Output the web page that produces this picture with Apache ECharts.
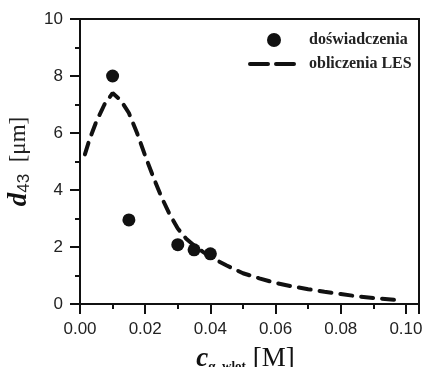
<!DOCTYPE html>
<html>
<head>
<meta charset="utf-8">
<script src="https://cdn.jsdelivr.net/npm/echarts@6/dist/echarts.min.js"></script>
<style>html,body{margin:0;padding:0;background:#fff}#c{width:423px;height:367px}</style>
</head>
<body>
<div id="c"></div>
<script>
// Experimental points
var expX = [0.010, 0.015, 0.030, 0.035, 0.040];
var expY = [8.0, 2.95, 2.08, 1.9, 1.76];
// LES calculation curve
var lesX = [0.0015, 0.003, 0.005, 0.0075, 0.010, 0.0125, 0.015, 0.0175, 0.020, 0.0225, 0.025, 0.0275, 0.030, 0.0325, 0.035, 0.0375, 0.040, 0.045, 0.050, 0.055, 0.060, 0.065, 0.070, 0.075, 0.080, 0.085, 0.090, 0.097];
var lesY = [5.25, 5.8, 6.4, 7.0, 7.4, 7.15, 6.7, 6.0, 5.2, 4.45, 3.75, 3.15, 2.65, 2.3, 2.05, 1.85, 1.65, 1.35, 1.08, 0.9, 0.74, 0.62, 0.52, 0.43, 0.35, 0.27, 0.21, 0.14];
var xTicks = [0, 0.02, 0.04, 0.06, 0.08, 0.10];
var yTicks = [0, 2, 4, 6, 8, 10];
var names = ['doświadczenia', 'obliczenia LES'];

var chart = echarts.init(document.getElementById('c'));
var expData = expX.map(function (x, i) { return [x, expY[i]]; });
var lesData = lesX.map(function (x, i) { return [x, lesY[i]]; });
var tickFont = {fontFamily: 'Liberation Sans, Arial, sans-serif', fontSize: 17, color: '#222'};

chart.setOption({
  animation: false,
  grid: {left: 80, right: 4, top: 19, bottom: 63, outerBoundsMode: 'none', containLabel: false, show: true, borderColor: '#111', borderWidth: 2, backgroundColor: 'transparent'},
  legend: {
    orient: 'vertical', left: 243, top: 27, itemWidth: 48, itemHeight: 14, itemGap: 8,
    textStyle: {fontFamily: 'Liberation Serif, Times New Roman, serif', fontWeight: 'bold', fontSize: 16, color: '#222', padding: [0, 0, 0, 6]},
    data: [
      {name: names[0], icon: 'circle', itemStyle: {color: '#111', opacity: 1}},
      {name: names[1], itemStyle: {opacity: 0}, lineStyle: {color: '#111', width: 4, type: [18, 8]}}
    ]
  },
  xAxis: {
    type: 'value', min: 0, max: 0.104, interval: 0.02,
    axisLine: {show: true, lineStyle: {color: '#111', width: 2}},
    axisTick: {show: true, inside: false, length: 10, lineStyle: {color: '#111', width: 2}},
    minorTick: {show: true, splitNumber: 2, length: 5, lineStyle: {color: '#111', width: 2}},
    splitLine: {show: false},
    axisLabel: Object.assign({margin: 17, showMaxLabel: false, formatter: function (v) {
      for (var i = 0; i < xTicks.length; i++) { if (Math.abs(v - xTicks[i]) < 1e-9) return xTicks[i].toFixed(2); }
      return '';
    }}, tickFont),
    name: '{c|c}{s|α, wlot}{u| [M]}{p| }',
    nameLocation: 'middle', nameGap: 41,
    nameTextStyle: {
      rich: {
        c: {fontFamily: 'Liberation Serif, serif', fontStyle: 'italic', fontWeight: 'bold', fontSize: 27, color: '#111', lineHeight: 28},
        s: {fontFamily: 'Liberation Serif, serif', fontWeight: 'bold', fontSize: 13, color: '#111', lineHeight: 12, verticalAlign: 'bottom'},
        u: {fontFamily: 'Liberation Serif, serif', fontSize: 27, color: '#111', lineHeight: 28},
        p: {fontSize: 10, width: 8}
      }
    }
  },
  yAxis: {
    type: 'value', min: 0, max: 10, interval: 2,
    axisLine: {show: true, lineStyle: {color: '#111', width: 2}},
    axisTick: {show: true, inside: false, length: 10, lineStyle: {color: '#111', width: 2}},
    minorTick: {show: true, splitNumber: 2, length: 5, lineStyle: {color: '#111', width: 2}},
    splitLine: {show: false},
    axisLabel: Object.assign({margin: 17, formatter: function (v) { return yTicks.indexOf(v) >= 0 ? String(v) : ''; }}, tickFont),
    name: '{d|d}{s|43}{u|  [μm]}',
    nameLocation: 'middle', nameRotate: 90, nameGap: 47,
    nameTextStyle: {
      rich: {
        d: {fontFamily: 'Liberation Serif, serif', fontStyle: 'italic', fontWeight: 'bold', fontSize: 27, color: '#111', lineHeight: 28},
        s: {fontFamily: 'Liberation Sans, sans-serif', fontSize: 17, color: '#222', lineHeight: 17, verticalAlign: 'bottom'},
        u: {fontFamily: 'Liberation Serif, serif', fontSize: 23, color: '#222', lineHeight: 28}
      }
    }
  },
  series: [
    {name: names[0], type: 'scatter', data: expData, symbol: 'circle', symbolSize: 13, itemStyle: {color: '#111', opacity: 1}, z: 3},
    {name: names[1], type: 'line', data: lesData, showSymbol: false, symbol: 'none', smooth: false,
     lineStyle: {color: '#111', width: 4, type: [12, 9], cap: 'round'}}
  ]
});
</script>
</body>
</html>
